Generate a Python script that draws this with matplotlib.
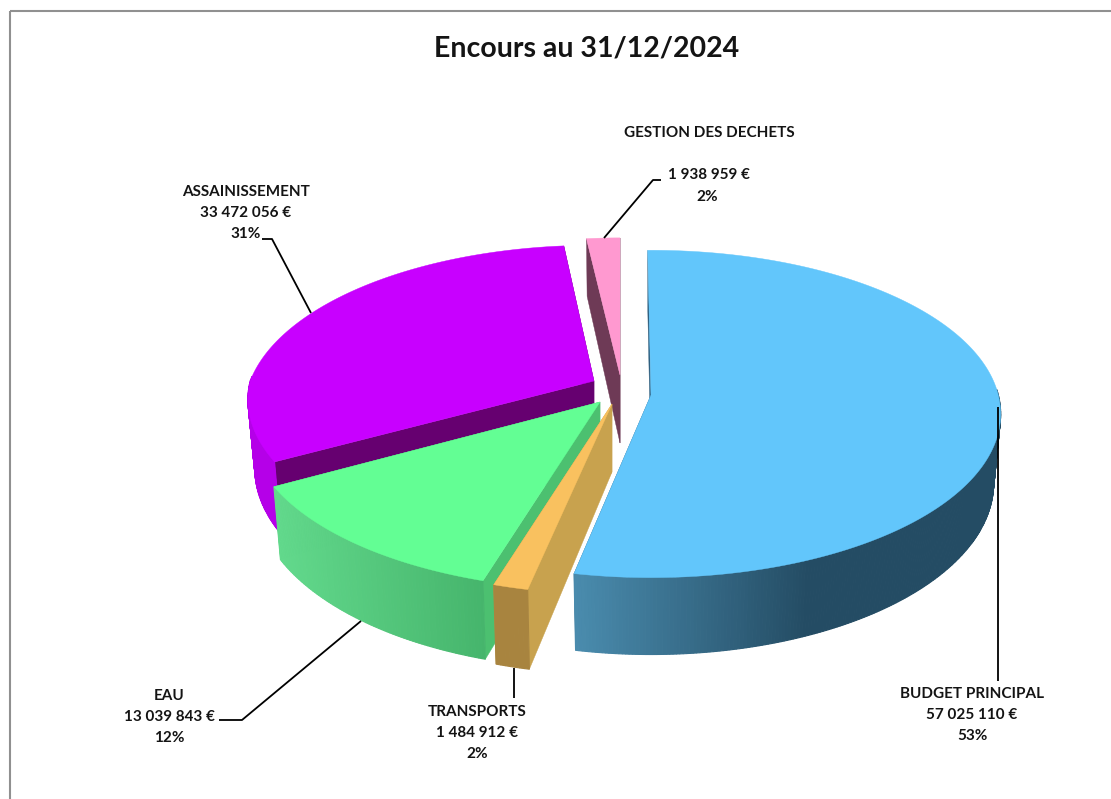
import numpy as np
import matplotlib
matplotlib.use("Agg")
import matplotlib.pyplot as plt
from matplotlib.patches import Polygon, Rectangle

categories = ["BUDGET PRINCIPAL", "TRANSPORTS", "EAU", "ASSAINISSEMENT", "GESTION DES DECHETS"]
amounts = [57025110, 1484912, 13039843, 33472056, 1938959]
amount_labels = ["57 025 110 €", "1 484 912 €", "13 039 843 €", "33 472 056 €", "1 938 959 €"]
percent_labels = ["53%", "2%", "12%", "31%", "2%"]
top_colors = ["#62c6fb", "#f9c15f", "#63fe94", "#c800ff", "#ff99d0"]
wall_left = ["#4a8cae", "#a8843f", "#62d98c", "#b500e8", "#6e3a56"]
wall_right = ["#244c64", "#a8843f", "#46b56c", "#b500e8", "#6e3a56"]
cut_colors = ["#2f6080", "#c8a24e", "#4cc070", "#660070", "#6e3a56"]
apex = [(651, 395), (612, 404), (600, 402), (594, 381), (620, 375)]
turn = [-0.6, 0, 0, 0.6, 0]
radius = [0.998, 1, 1, 0.988, 1]
persp_front = [0.116, 0.15, 0.14, 0.116, 0.116]
persp_back = [0.116, 0.116, 0.116, 0.18, 0.18]
title = "Encours au 31/12/2024"

W, H = 1111, 799
R, KR, DEPTH, FOOT = 348, 161.8, 68, 0.98
INK = "#141414"

plt.rcParams["font.family"] = ["Lato", "DejaVu Sans"]
fig = plt.figure(figsize=(W / 100, H / 100), dpi=100)
ax = fig.add_axes([0, 0, 1, 1])
ax.set_xlim(0, W)
ax.set_ylim(H, 0)
ax.axis("off")

ax.add_patch(Rectangle((9.5, 11), W + 20, H + 20, fill=False, ec="#909090", lw=1.5))


def project(i, theta, r, drop=0.0):
    """theta measured clockwise from 12 o'clock, degrees; r in 0..1."""
    t = np.radians(theta)
    X, Y = r * radius[i] * np.sin(t), -r * radius[i] * np.cos(t)
    p = persp_front[i] if Y > 0 else persp_back[i]
    s = 1 / (1 - p * Y)
    foot = FOOT if drop else 1.0
    return apex[i][0] + R * X * s * foot, apex[i][1] + KR * Y * s + drop * s


fractions = np.array(amounts, dtype=float) / sum(amounts)
edges = np.concatenate([[0], np.cumsum(fractions) * 360])


def mix(a, b, f):
    ca, cb = np.array(matplotlib.colors.to_rgb(a)), np.array(matplotlib.colors.to_rgb(b))
    return tuple(ca + (cb - ca) * f)


def draw_slice(i, z):
    a0, a1 = edges[i] + turn[i], edges[i + 1] + turn[i]
    thetas = np.linspace(a0, a1, max(int(a1 - a0) * 2, 6))
    for th in (a0, a1):
        pts = [project(i, th, 0), project(i, th, 1), project(i, th, 1, DEPTH), project(i, th, 0, DEPTH)]
        ax.add_patch(Polygon(pts, closed=True, fc=cut_colors[i], ec=cut_colors[i], lw=0.3, zorder=z))
    for t0, t1 in zip(thetas[:-1], thetas[1:]):
        if np.cos(np.radians((t0 + t1) / 2)) > 0.03:
            continue
        x0 = project(i, t0, 1)[0]
        f = np.clip((575 - x0) / (575 - 810) if i == 0 else (276 - x0) / (276 - 483), 0, 1)
        col = mix(wall_left[i], wall_right[i], f)
        pts = [project(i, t0, 1), project(i, t1, 1), project(i, t1, 1, DEPTH), project(i, t0, 1, DEPTH)]
        ax.add_patch(Polygon(pts, closed=True, fc=col, ec=col, lw=0.8, zorder=z + 0.1))
    pts = [project(i, 0, 0)] + [project(i, t, 1) for t in thetas]
    ax.add_patch(Polygon(pts, closed=True, fc=top_colors[i], ec=top_colors[i], lw=0.3, zorder=z + 0.2))


for z, i in enumerate([3, 4, 0, 2, 1]):
    draw_slice(i, 2 + z)

ax.text(587, 49, title, ha="center", va="center", fontsize=20.5, fontweight="bold", color=INK, zorder=20)

FS = 11
label_pos = [(972, 715), (477, 733), (169, 717), (246, 213), (709, 133)]
for i, (x, y) in enumerate(label_pos):
    if i == 4:
        ax.text(x, y, categories[i], ha="center", va="center", fontsize=FS, fontweight="bold", color=INK, zorder=20)
        ax.text(x, y + 42, amount_labels[i], ha="center", va="center", fontsize=FS, fontweight="bold", color=INK, zorder=20)
        ax.text(x - 2, y + 64, percent_labels[i], ha="center", va="center", fontsize=FS, fontweight="bold", color=INK, zorder=20)
    else:
        for k, s in enumerate((categories[i], amount_labels[i], percent_labels[i])):
            ax.text(x, y + (k - 1) * 21, s, ha="center", va="center", fontsize=FS, fontweight="bold", color=INK, zorder=20)

leaders = [
    [(998, 407), (998, 681)],
    [(514, 668), (514, 698)],
    [(361, 621), (242, 720), (219, 720)],
    [(311, 313), (272, 239), (262, 239)],
    [(604, 238), (653, 180), (661, 180)],
]
for line in leaders:
    xs, ys = zip(*line)
    ax.plot(xs, ys, color="black", lw=1.3, zorder=15, solid_capstyle="butt")

fig.savefig("out.png", dpi=100)
